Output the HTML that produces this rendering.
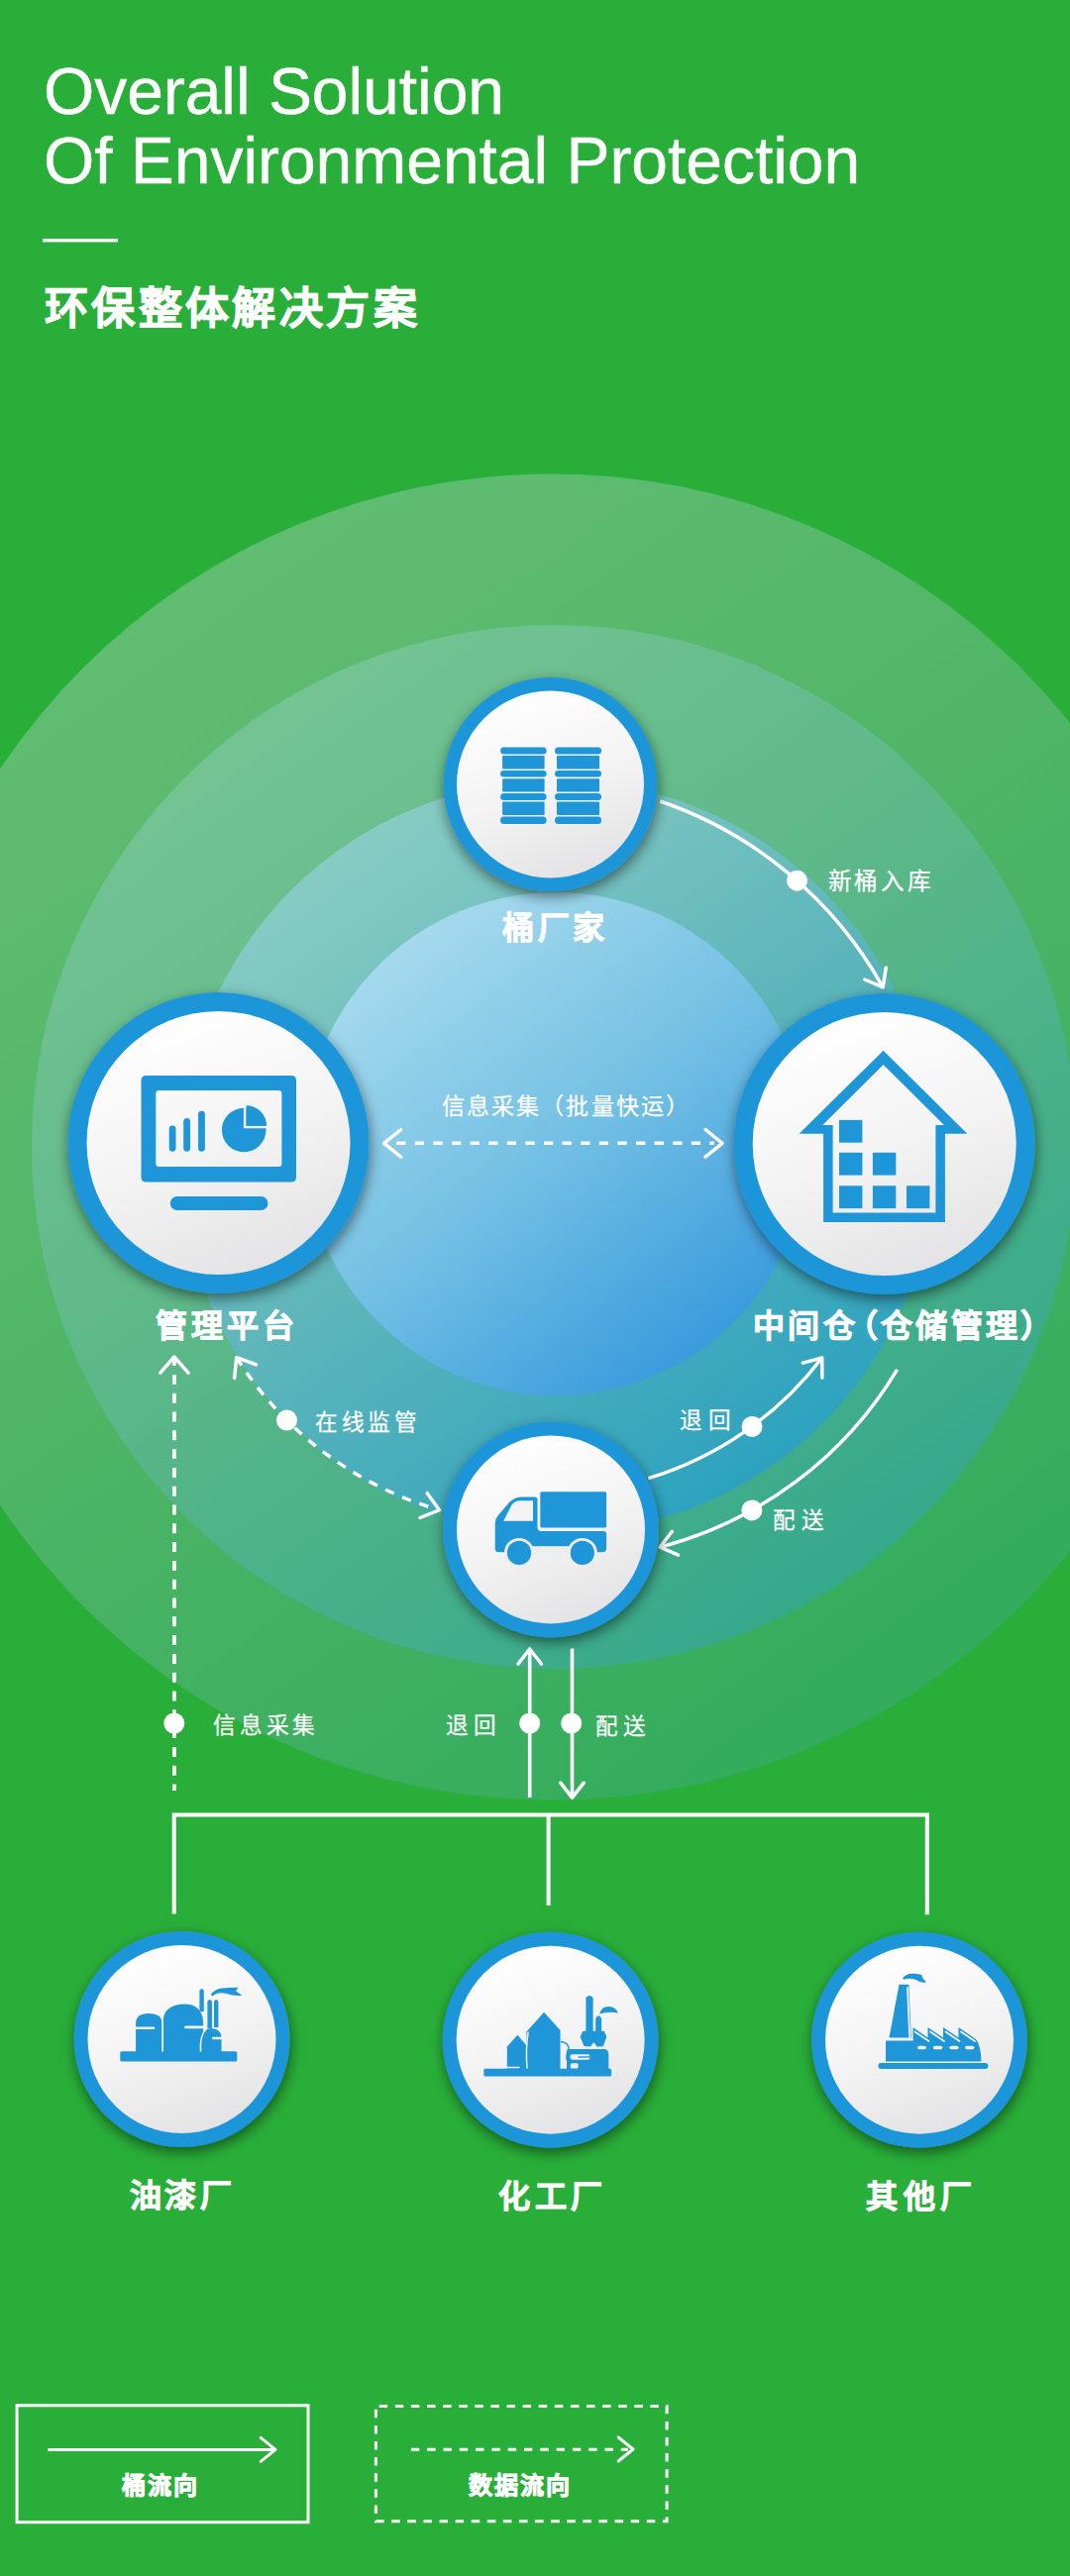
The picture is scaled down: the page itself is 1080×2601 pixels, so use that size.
<!DOCTYPE html><html lang="zh-CN"><head><meta charset="utf-8"><title>Overall Solution</title><style>
html,body{margin:0;padding:0}
body{width:1080px;height:2601px;overflow:hidden;position:relative;background:#29ae39;font-family:"Liberation Sans",sans-serif;color:#fff}
svg{position:absolute;left:0;top:0}
.t{position:absolute;white-space:nowrap;line-height:1;margin:0}
.sb{-webkit-text-stroke:0.9px #fff}
.sr{-webkit-text-stroke:0.25px #fff}
.st{-webkit-text-stroke:0.4px #fff}
</style></head><body>
<svg width="1080" height="2601" viewBox="0 0 1080 2601"><defs>
<linearGradient id="g1" x1="0.15" y1="0" x2="0.85" y2="1">
 <stop offset="0" stop-color="rgb(100,191,115)"/><stop offset="0.45" stop-color="rgb(80,181,103)"/><stop offset="1" stop-color="rgb(44,170,90)"/>
</linearGradient>
<linearGradient id="g2" x1="0.15" y1="0" x2="0.85" y2="1">
 <stop offset="0" stop-color="rgb(122,198,150)"/><stop offset="0.45" stop-color="rgb(92,184,136)"/><stop offset="1" stop-color="rgb(46,166,140)"/>
</linearGradient>
<linearGradient id="g3" x1="0.15" y1="0" x2="0.85" y2="1">
 <stop offset="0" stop-color="rgb(145,208,198)"/><stop offset="0.5" stop-color="rgb(92,181,186)"/><stop offset="1" stop-color="rgb(34,158,192)"/>
</linearGradient>
<linearGradient id="g4" x1="0.15" y1="0.05" x2="0.85" y2="0.95">
 <stop offset="0" stop-color="rgb(172,221,238)"/><stop offset="0.5" stop-color="rgb(115,192,228)"/><stop offset="1" stop-color="rgb(50,150,220)"/>
</linearGradient>
<linearGradient id="wg" x1="0.3" y1="0.05" x2="0.65" y2="1">
 <stop offset="0" stop-color="#fefefe"/><stop offset="0.5" stop-color="#f3f3f3"/><stop offset="1" stop-color="#e3e3e5"/>
</linearGradient>
<filter id="sh" x="-20%" y="-20%" width="140%" height="140%">
 <feGaussianBlur in="SourceAlpha" stdDeviation="7"/><feOffset dx="1" dy="5" result="b"/>
 <feComponentTransfer><feFuncA type="linear" slope="0.5"/></feComponentTransfer>
 <feMerge><feMergeNode/><feMergeNode in="SourceGraphic"/></feMerge>
</filter>
</defs><circle cx="557" cy="1148" r="669.5" fill="url(#g1)"/><circle cx="559" cy="1158" r="527" fill="url(#g2)"/><circle cx="562" cy="1168" r="380" fill="url(#g3)"/><circle cx="561" cy="1155" r="254" fill="url(#g4)"/><rect x="43" y="241" width="76" height="3.4" fill="#fff"/><path d="M666.3 809.0 A408.6 408.6 0 0 1 891.2 996.8" fill="none" stroke="#ffffff" stroke-width="3.5"/><path d="M894.3 977.0 L891.2 996.8 L872.8 989.0" fill="none" stroke="#ffffff" stroke-width="3.5" stroke-linecap="round" stroke-linejoin="round"/><circle cx="804.5" cy="889.2" r="10.5" fill="#ffffff"/><path d="M400.2 1154.3 H721" stroke="#fff" stroke-width="3.6" stroke-dasharray="9.3 9.3" fill="none"/><path d="M404.7 1168.1 L387.6 1154.3 L404.7 1140.5" stroke="#fff" stroke-width="3.5" fill="none" stroke-linecap="round" stroke-linejoin="round"/><path d="M712.0 1140.5 L729.1 1154.3 L712.0 1168.1" stroke="#fff" stroke-width="3.5" fill="none" stroke-linecap="round" stroke-linejoin="round"/><path d="M238.7 1370.7 A361.5 361.5 0 0 0 443.5 1524.7" fill="none" stroke="#ffffff" stroke-width="3.5" stroke-dasharray="9.5 9"/><path d="M431.2 1507.7 L443.5 1524.7 L424.0 1532.5" fill="none" stroke="#ffffff" stroke-width="3.5" stroke-linecap="round" stroke-linejoin="round"/><path d="M236.6 1391.6 L238.7 1370.7 L258.5 1377.8" fill="none" stroke="#ffffff" stroke-width="3.5" stroke-linecap="round" stroke-linejoin="round"/><circle cx="289.5" cy="1434" r="10.5" fill="#ffffff"/><path d="M654.4 1492.7 A347.1 347.1 0 0 0 829.7 1371.0" fill="none" stroke="#ffffff" stroke-width="3.5"/><path d="M810.4 1376.1 L829.7 1371.0 L829.9 1391.0" fill="none" stroke="#ffffff" stroke-width="3.5" stroke-linecap="round" stroke-linejoin="round"/><circle cx="759" cy="1440.4" r="10.5" fill="#ffffff"/><path d="M905.6 1382.8 A396.4 396.4 0 0 1 666.2 1562.2" fill="none" stroke="#ffffff" stroke-width="3.5"/><path d="M684.6 1570.1 L666.2 1562.2 L678.3 1546.3" fill="none" stroke="#ffffff" stroke-width="3.5" stroke-linecap="round" stroke-linejoin="round"/><circle cx="758.9" cy="1524.9" r="10.5" fill="#ffffff"/><path d="M175.9 1808 V1373" stroke="#fff" stroke-width="3.8" stroke-dasharray="10 8.8" stroke-dashoffset="3.5" fill="none"/><path d="M161.8 1386.2 L175.9 1370.0 L190.0 1386.2" stroke="#fff" stroke-width="3.5" fill="none" stroke-linecap="round" stroke-linejoin="round"/><circle cx="175.8" cy="1740" r="10.5" fill="#ffffff"/><path d="M534.7 1815 V1667" stroke="#fff" stroke-width="3.6" fill="none"/><path d="M523.0 1680.0 L534.7 1665.0 L546.4 1680.0" stroke="#fff" stroke-width="3.6" fill="none" stroke-linecap="round" stroke-linejoin="round"/><path d="M577.5 1664.6 V1813" stroke="#fff" stroke-width="3.6" fill="none"/><path d="M589.2 1800.2 L577.5 1815.2 L565.8 1800.2" stroke="#fff" stroke-width="3.6" fill="none" stroke-linecap="round" stroke-linejoin="round"/><circle cx="534.7" cy="1740" r="10.5" fill="#ffffff"/><circle cx="576.7" cy="1740" r="10.5" fill="#ffffff"/><path d="M175.7 1932.6 V1832.5 H935.8 V1933.2 M553.6 1832.5 V1924" stroke="#fff" stroke-width="4" fill="none"/><g filter="url(#sh)"><circle cx="555.5" cy="792" r="108" fill="#1f96d8"/></g><circle cx="555.5" cy="792" r="94.5" fill="url(#wg)"/><g fill="#1f96d8"><rect x="505.1" y="754.5" width="46.5" height="7.1" rx="3.5"/><rect x="505.1" y="777.9" width="46.5" height="6.6" rx="3.5"/><rect x="505.1" y="801" width="46.5" height="7.0" rx="3.5"/><rect x="505.1" y="824.6" width="46.5" height="7.3" rx="3.5"/><rect x="507.1" y="762.9" width="42.5" height="13.5" rx="1"/><rect x="507.1" y="786.3" width="42.5" height="13.1" rx="1"/><rect x="507.1" y="809.5" width="42.5" height="13.5" rx="1"/><rect x="560" y="754.5" width="47.0" height="7.1" rx="3.5"/><rect x="560" y="777.9" width="47.0" height="6.6" rx="3.5"/><rect x="560" y="801" width="47.0" height="7.0" rx="3.5"/><rect x="560" y="824.6" width="47.0" height="7.3" rx="3.5"/><rect x="562.0" y="762.9" width="43.0" height="13.5" rx="1"/><rect x="562.0" y="786.3" width="43.0" height="13.1" rx="1"/><rect x="562.0" y="809.5" width="43.0" height="13.5" rx="1"/></g><g filter="url(#sh)"><circle cx="220.5" cy="1154" r="152" fill="#1f96d8"/></g><circle cx="220.5" cy="1154" r="133" fill="url(#wg)"/><g fill="#1f96d8"><path fill-rule="evenodd" d="M147.5 1086 H294 Q299 1086 299 1091 V1188.6 Q299 1193.6 294 1193.6 H147.5 Q142.5 1193.6 142.5 1188.6 V1091 Q142.5 1086 147.5 1086 Z M160.3 1101 Q157.3 1101 157.3 1104 V1175 Q157.3 1178 160.3 1178 H281.4 Q284.4 1178 284.4 1175 V1104 Q284.4 1101 281.4 1101 Z"/><rect x="170.7" y="1136.4" width="6.8" height="26.3" rx="3.4"/><rect x="185.2" y="1129" width="6.8" height="33.7" rx="3.4"/><rect x="200.1" y="1121.8" width="6.8" height="40.9" rx="3.4"/><circle cx="246.2" cy="1141" r="22.3"/><path d="M247.2 1115 V1138 H272" fill="none" stroke="#f4f4f4" stroke-width="2.6"/><path d="M248.6 1136.8 V1116.3 A20.6 20.6 0 0 1 269.2 1136.8 Z"/><rect x="171.8" y="1208" width="98.7" height="14" rx="7"/></g><g filter="url(#sh)"><circle cx="892.7" cy="1155" r="152" fill="#1f96d8"/></g><circle cx="892.7" cy="1155" r="133" fill="url(#wg)"/><g fill="#1f96d8"><path fill-rule="evenodd" d="M891.6 1060.7 L976.3 1144.7 H953.9 V1234.1 H831.1 V1144.7 H806.6 Z M891.6 1075.1 L830.3 1135.9 H840.6 V1224.6 H944.4 V1135.9 H953 Z"/><rect x="847" y="1130.9" width="23.4" height="22.8"/><rect x="847" y="1163.8" width="23.4" height="22.8"/><rect x="880.9" y="1163.8" width="23.4" height="22.8"/><rect x="847" y="1197.3" width="23.4" height="22.8"/><rect x="880.9" y="1197.3" width="23.4" height="22.8"/><rect x="915" y="1197.3" width="23.4" height="22.8"/></g><g filter="url(#sh)"><circle cx="556" cy="1544.4" r="109" fill="#1f96d8"/></g><circle cx="556" cy="1544.4" r="95" fill="url(#wg)"/><g fill="#1f96d8"><rect x="545.3" y="1506.2" width="66.8" height="36.4" rx="1.5"/><path d="M499.7 1564 V1538 Q499.7 1534 502.5 1530.5 L514 1517 Q519 1511.4 527 1511.4 H539.5 Q542.5 1511.4 542.5 1514.4 V1542 Q542.5 1546 546.5 1546 H609 Q612.1 1546 612.1 1549 V1563 Q612.1 1567.3 607.8 1567.3 H504 Q499.7 1567.3 499.7 1564 Z"/><path d="M508.2 1535.7 H538 V1515.3 H525 Q520 1515.3 516.5 1519.5 Z" fill="#f3f3f3"/><rect x="512" y="1561.2" width="88" height="8" fill="#eeeeee"/><circle cx="524" cy="1567.9" r="15" fill="#eeeeee"/><circle cx="524" cy="1567.9" r="12.1"/><circle cx="587.8" cy="1567.9" r="15" fill="#eeeeee"/><circle cx="587.8" cy="1567.9" r="12.1"/></g><g filter="url(#sh)"><circle cx="183.5" cy="2059" r="109" fill="#1f96d8"/></g><circle cx="183.5" cy="2059" r="95" fill="url(#wg)"/><g fill="#1f96d8"><rect x="121.3" y="2071.3" width="118" height="10.1" rx="1.5"/><path d="M137.1 2072 V2043 Q137.1 2033 150 2032.9 Q163.6 2033 163.6 2043 V2072 Z"/><path d="M164.8 2072 V2040 Q165 2028 178 2024.5 Q186 2022.5 194 2024.5 Q205.2 2029 205.2 2043 V2072 Z"/><path d="M203.3 2072 V2058 Q203.5 2048.5 213 2048 Q223.5 2048.5 223.5 2058 V2072 Z"/><path d="M201.4 2031 V2010 Q203.6 2006 205.8 2010 V2031 Z"/><path d="M209.4 2048 V2021 Q211.7 2017 214 2021 V2048 Z"/><path d="M216 2047 V2021 Q218.2 2017 220.4 2021 V2047 Z"/><path d="M212.8 2014 Q216 2008.5 224 2007.5 Q231 2007 240.5 2006.8 L238 2010.5 L244.3 2014.8 Q236 2015.6 228 2012.8 Q220 2010.8 214.5 2015.5 Z"/></g><g fill="none" stroke="#f2f2f2" stroke-width="1.6" stroke-linecap="round"><path d="M164.2 2035 V2071"/><path d="M202.5 2071 Q201.5 2055 208 2049"/><path d="M136 2047.7 H155" stroke-width="2.6"/><path d="M187.5 2046.9 H206" stroke-width="2.6"/><path d="M215.2 2058 H224" stroke-width="2.4"/><path d="M207.6 2033 V2047"/></g><g filter="url(#sh)"><circle cx="555.6" cy="2059.7" r="109" fill="#1f96d8"/></g><circle cx="555.6" cy="2059.7" r="95" fill="url(#wg)"/><g fill="#1f96d8"><rect x="488.3" y="2088.7" width="128.8" height="7.9" rx="1.5"/><path d="M511.8 2089 V2066.5 L522.3 2054.7 L532.1 2066 V2089 Z"/><path d="M531.4 2089 V2051.4 L549.1 2031.8 L565.5 2050.1 V2089 Z"/><path d="M591.4 2050.8 V2017 Q595 2013 598.6 2017 V2050.8 H601.2 V2038 Q604.2 2032.5 607.1 2038 V2050.8 L609.8 2051 L612.3 2056.5 L608.8 2066.2 L602.5 2066.5 L599.3 2062 L596 2066.5 L589.5 2066 L585.6 2056.5 L588.2 2051 Z"/><path d="M605.1 2033.6 Q606.5 2026.2 614.5 2025.9 Q621.5 2026 623.8 2032.6 Q614 2030.6 605.1 2033.6 Z"/><path d="M572 2089 V2071.5 Q572 2069 575 2069 H609.5 Q614.3 2069 614.3 2074.5 V2089 Z"/></g><g fill="none" stroke="#f2f2f2" stroke-width="1.5" stroke-linecap="round"><path d="M533 2052 Q530.5 2070 532 2088"/><path d="M512 2087.5 H524"/></g><rect x="575.5" y="2074.3" width="20" height="5.4" rx="2.5" fill="#f0f0f0"/><path d="M583.5 2077 H596" stroke="#1f96d8" stroke-width="1.4"/><rect x="575.8" y="2083.3" width="7.8" height="5.2" rx="1.5" fill="#f0f0f0"/><path d="M566 2061.5 Q574.5 2062.5 574 2069.5 Q570.5 2075.5 573 2082 L573.5 2089" fill="none" stroke="#1f96d8" stroke-width="1.6"/><g filter="url(#sh)"><circle cx="928" cy="2059.7" r="109" fill="#1f96d8"/></g><circle cx="928" cy="2059.7" r="95" fill="url(#wg)"/><g fill="#1f96d8"><rect x="886.4" y="2083.1" width="111" height="6" rx="3"/><path d="M907.5 2003.7 H917.4 L919.7 2057.4 H897.5 Z"/><path d="M894 2081.4 V2060.4 H921.5 V2047 L936.5 2057.5 V2047 L952 2057.5 V2047 L967.5 2057.5 V2047 L985 2059 Q990.4 2066 990.4 2081.4 Z"/><path d="M911 1997.5 Q914 1992.6 922 1992.8 Q928 1993 930.5 1994.5 L931 1996.8 L934.9 2001.5 Q929 2002.5 924.5 1999 Q918 1996.5 912.5 1998.8 Z"/></g><g fill="none" stroke="#f2f2f2" stroke-linecap="round"><path d="M916 2007 L918.2 2057" stroke-width="1.8"/><path d="M894 2059.2 H920.5" stroke-width="1.8"/><path d="M923.5 2051.5 L937.5 2061" stroke-width="1.8"/><path d="M939 2051.5 L953 2061" stroke-width="1.8"/><path d="M954.5 2051.5 L968.5 2061" stroke-width="1.8"/><path d="M970 2051.5 L984 2061" stroke-width="1.8"/></g><g fill="#f2f2f2"><rect x="926.1" y="2065.7" width="8.8" height="3.6" rx="1.8"/><rect x="941.9" y="2065.7" width="9.4" height="3.6" rx="1.8"/><rect x="958.3" y="2065.7" width="9.3" height="3.6" rx="1.8"/><rect x="974" y="2065.7" width="9.4" height="3.6" rx="1.8"/></g><rect x="17.1" y="2428.8" width="293.9" height="117.9" fill="none" stroke="#fff" stroke-width="3"/><path d="M48.4 2473.4 H276" stroke="#fff" stroke-width="3" fill="none"/><path d="M263.2 2461.4 L278.0 2473.4 L263.2 2485.4" stroke="#fff" stroke-width="3" fill="none" stroke-linecap="round" stroke-linejoin="round"/><rect x="379.4" y="2429.4" width="293.7" height="116.4" fill="none" stroke="#fff" stroke-width="3" stroke-dasharray="8.5 7.6" stroke-dashoffset="12.8"/><path d="M414.9 2473.2 H634" stroke="#fff" stroke-width="3" fill="none" stroke-dasharray="8.4 7.9"/><path d="M624.2 2461.0 L639.0 2473.0 L624.2 2485.0" stroke="#fff" stroke-width="3" fill="none" stroke-linecap="round" stroke-linejoin="round"/></svg>
<div class="t st" id="t0" style="left:43.9px;top:58.8px;font-size:66.00px;font-weight:400;letter-spacing:-0.05px">Overall Solution</div>
<div class="t st" id="t1" style="left:43.9px;top:129.0px;font-size:66.00px;font-weight:400;letter-spacing:-0.04px">Of Environmental Protection</div>
<div class="t sb" id="t2" style="left:44.7px;top:290.2px;font-size:44.00px;font-weight:700;letter-spacing:3.44px">环保整体解决方案</div>
<div class="t sb" id="t3" style="left:506.8px;top:921.0px;font-size:32.00px;font-weight:700;letter-spacing:3.80px">桶厂家</div>
<div class="t sb" id="t4" style="left:156.6px;top:1323.4px;font-size:32.00px;font-weight:700;letter-spacing:4.12px">管理平台</div>
<div class="t sb" id="t5" style="left:759.8px;top:1322.6px;font-size:32.00px;font-weight:700;letter-spacing:3.50px">中间仓</div>
<div class="t sb" id="t6" style="left:853.6px;top:1323.0px;font-size:32.00px;font-weight:700;letter-spacing:3.31px">（仓储管理）</div>
<div class="t sb" id="t7" style="left:130.6px;top:2201.4px;font-size:32.00px;font-weight:700;letter-spacing:3.90px">油漆厂</div>
<div class="t sb" id="t8" style="left:503.2px;top:2201.6px;font-size:32.00px;font-weight:700;letter-spacing:4.50px">化工厂</div>
<div class="t sb" id="t9" style="left:874.4px;top:2201.6px;font-size:32.00px;font-weight:700;letter-spacing:5.30px">其他厂</div>
<div class="t sr" id="t10" style="left:835.6px;top:878.8px;font-size:23.50px;font-weight:400;letter-spacing:3.66px">新桶入库</div>
<div class="t sr" id="t11" style="left:445.6px;top:1106.4px;font-size:23.00px;font-weight:400;letter-spacing:2.17px">信息采集（批量快运）</div>
<div class="t sr" id="t12" style="left:318.2px;top:1426.2px;font-size:22.60px;font-weight:400;letter-spacing:3.52px">在线监管</div>
<div class="t sr" id="t13" style="left:686.0px;top:1424.2px;font-size:22.60px;font-weight:400;letter-spacing:5.80px">退回</div>
<div class="t sr" id="t14" style="left:780.2px;top:1524.6px;font-size:22.60px;font-weight:400;letter-spacing:5.60px">配送</div>
<div class="t sr" id="t15" style="left:214.8px;top:1731.8px;font-size:22.60px;font-weight:400;letter-spacing:3.87px">信息采集</div>
<div class="t sr" id="t16" style="left:450.2px;top:1731.6px;font-size:22.60px;font-weight:400;letter-spacing:5.00px">退回</div>
<div class="t sr" id="t17" style="left:600.6px;top:1732.6px;font-size:22.60px;font-weight:400;letter-spacing:5.00px">配送</div>
<div class="t sb" id="t18" style="left:123.4px;top:2498.2px;font-size:24.00px;font-weight:700;letter-spacing:1.90px">桶流向</div>
<div class="t sb" id="t19" style="left:473.2px;top:2498.0px;font-size:24.00px;font-weight:700;letter-spacing:1.86px">数据流向</div>
</body></html>
